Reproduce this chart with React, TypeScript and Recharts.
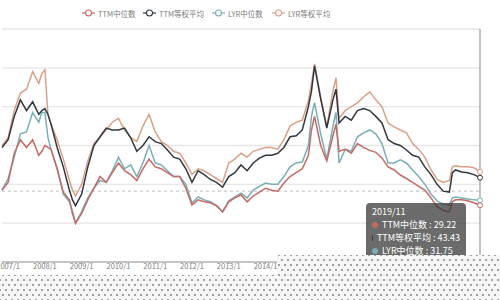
import React from 'react';
import { LineChart, Line, XAxis, YAxis, CartesianGrid, ReferenceLine, ReferenceDot } from 'recharts';

const months = [
  '2006/11', '2007/1', '2007/3', '2007/5', '2007/7', '2007/9', '2007/11', '2007/12', '2008/1', '2008/2',
  '2008/3', '2008/5', '2008/7', '2008/9', '2008/10', '2008/11', '2009/1', '2009/3', '2009/5', '2009/7',
  '2009/9', '2009/11', '2010/1', '2010/3', '2010/5', '2010/7', '2010/9', '2010/11', '2011/1', '2011/3',
  '2011/5', '2011/7', '2011/9', '2011/11', '2012/1', '2012/3', '2012/5', '2012/7', '2012/9', '2012/11',
  '2013/1', '2013/3', '2013/5', '2013/7', '2013/9', '2013/11', '2014/1', '2014/3', '2014/5', '2014/7',
  '2014/9', '2014/11', '2015/1', '2015/3', '2015/4', '2015/5', '2015/7', '2015/9', '2015/11', '2015/12',
  '2016/1', '2016/3', '2016/5', '2016/7', '2016/9', '2016/11', '2017/1', '2017/3', '2017/5', '2017/7',
  '2017/9', '2017/11', '2018/1', '2018/3', '2018/5', '2018/7', '2018/9', '2018/11', '2019/1', '2019/2',
  '2019/3', '2019/5', '2019/7', '2019/9', '2019/11',
];

// TTM中位数
const ttmMedian = [
  37, 41, 56, 63, 59, 63, 55, 57, 60, 59,
  58, 48, 36, 32, 25, 20, 25, 32, 38, 44,
  41, 46, 51, 47, 45, 42, 48, 53, 49, 48,
  46, 44, 44, 38, 29.4, 32, 31, 30.5, 29, 25.8,
  31, 33, 34.5, 31, 34, 36, 38, 37, 36.5, 40.7,
  44, 46, 48, 55, 68, 75, 60, 52, 65, 71,
  57, 58, 56, 61, 59, 57.5, 56.5, 53.6, 49, 47.4,
  44.8, 43, 41, 39, 37, 33, 28.5, 26.5, 25.8, 31,
  32, 32, 31.5, 30.5, 29.22,
];

// TTM等权平均
const ttmEqualAvg = [
  59, 63, 75, 83.5, 78, 82.5, 76, 78, 79, 76,
  71, 59, 49, 37, 32, 29, 35, 49, 60, 64.5,
  69, 68, 68, 69, 64, 57, 60, 64.5, 62, 61,
  57.7, 54, 53, 48, 41, 47, 45, 42.5, 41, 38.5,
  44, 46, 50, 47, 51, 53.5, 55, 55, 56, 59,
  64.5, 65, 68, 80, 88, 101, 84, 69, 83.5, 89,
  71.6, 75, 73, 78, 79, 78, 75, 71.6, 63, 61,
  60, 57.7, 55, 54, 49, 45, 40, 36.5, 36, 46,
  47.4, 46.4, 46, 45, 43.43,
];

// LYR中位数
const lyrMedian = [
  37, 43, 54, 66, 67, 77, 72, 77, 77, 64,
  58, 48, 35, 31, 26, 20, 26, 33, 38, 42,
  41, 47, 54, 48, 50, 44, 51, 60, 51, 50,
  47, 44, 44, 40, 30.4, 33.5, 32, 31, 29, 25.8,
  31.5, 33.5, 35.5, 33, 37, 39, 40.7, 40, 40, 44,
  49, 51, 51.5, 60, 75, 82, 66, 53, 70, 77,
  51, 58, 57, 64.5, 66.5, 68, 66, 61, 51, 51,
  52.6, 51, 47.4, 44, 40, 35, 31.5, 29.8, 29.4, 33,
  33.5, 33, 32.5, 32, 31.75,
];

// LYR等权平均
const lyrEqualAvg = [
  60, 64, 78, 87, 89, 98, 92, 97, 99, 76,
  71, 63, 53, 42, 37, 34, 40, 52, 61, 64.5,
  68, 72, 74, 68, 64, 62, 70, 76, 67, 62,
  60, 57, 56, 51, 45, 48, 47, 45, 43, 41,
  51, 53, 56, 54, 57, 58, 59, 59, 58, 63,
  70, 72, 73, 83, 92, 102, 85, 69.6, 88, 95,
  74, 78, 80, 82, 85, 87.6, 83.5, 80, 71.6, 69.6,
  68, 66.5, 61, 58, 54, 47.5, 42.5, 41, 42, 49,
  49.5, 49, 49, 48.5, 46.4,
];

const seriesNames = ['TTM中位数', 'TTM等权平均', 'LYR中位数', 'LYR等权平均'];
const yearTicks = [
  '2007/1', '2008/1', '2009/1', '2010/1', '2011/1', '2012/1', '2013/1',
  '2014/1', '2015/1', '2016/1', '2017/1', '2018/1', '2019/1',
];
const yTicks = [0, 20, 40, 60, 80, 100, 120];
const averageLine = 36.5;

const colors = ['#c46a66', '#30373e', '#7aaeb6', '#d9a088'];
const keys = ['ttmMed', 'ttmAvg', 'lyrMed', 'lyrAvg'];
const legendLeft = [82, 143, 212, 272];

const monthIndex = (s: string) => {
  const [y, mo] = s.split('/').map(Number);
  return (y - 2006) * 12 + (mo - 11);
};

const checker: React.CSSProperties = {
  position: 'absolute',
  backgroundColor: '#f6f6f6',
  backgroundImage:
    'radial-gradient(circle, #a0a0a0 0.7px, transparent 1.2px), radial-gradient(circle, #a0a0a0 0.7px, transparent 1.2px)',
  backgroundSize: '6px 10px',
  backgroundPosition: '0 0, 3px 5px',
  backgroundAttachment: 'fixed',
};

export default function App() {
  const series = [ttmMedian, ttmEqualAvg, lyrMedian, lyrEqualAvg];
  const data = months.map((d, i) => ({
    m: monthIndex(d),
    ttmMed: ttmMedian[i],
    ttmAvg: ttmEqualAvg[i],
    lyrMed: lyrMedian[i],
    lyrAvg: lyrEqualAvg[i],
  }));
  const last = months.length - 1;
  const lastM = monthIndex(months[last]);
  const tickLabel: Record<number, string> = {};
  yearTicks.forEach((t) => (tickLabel[monthIndex(t)] = t));
  const font = '"Noto Sans CJK SC", "Noto Sans", sans-serif';

  return (
    <div
      style={{
        position: 'fixed',
        left: 0,
        top: 0,
        width: 500,
        height: 300,
        background: '#fff',
        overflow: 'hidden',
        fontFamily: font,
      }}
    >
      <LineChart width={500} height={300} data={data} margin={{ top: 29, right: 20, bottom: 8, left: 2 }}>
        <CartesianGrid vertical={false} stroke="#e6e6e6" strokeWidth={1.3} />
        <XAxis
          type="number"
          dataKey="m"
          domain={[0, lastM]}
          ticks={yearTicks.map(monthIndex)}
          tickFormatter={(v: number) => tickLabel[v] ?? ''}
          interval={0}
          height={30}
          axisLine={{ stroke: '#c4c4c4', strokeWidth: 2 }}
          tickLine={{ stroke: '#999' }}
          tickSize={2}
          tickMargin={0}
          tick={{ fontSize: 7.5, fill: '#808080', fontFamily: font }}
        />
        <YAxis hide domain={[0, 120]} ticks={yTicks} />
        <ReferenceLine y={averageLine} stroke="#bcbcbc" strokeDasharray="3 3" />
        <ReferenceLine x={lastM} stroke="#a8a8a8" strokeWidth={1.4} />
        {[3, 2, 0, 1].map((k) => (
          <Line
            key={keys[k]}
            type="linear"
            dataKey={keys[k]}
            stroke={colors[k]}
            strokeWidth={1.5}
            dot={false}
            isAnimationActive={false}
          />
        ))}
        {[3, 2, 0, 1].map((k) => (
          <ReferenceDot
            key={'d' + k}
            x={lastM}
            y={series[k][last]}
            r={2.5}
            fill="#fff"
            stroke={colors[k]}
            strokeWidth={1}
          />
        ))}
      </LineChart>

      {seriesNames.map((name, k) => (
        <div
          key={name}
          style={{
            position: 'absolute',
            left: legendLeft[k],
            top: 8,
            height: 10,
            display: 'flex',
            alignItems: 'center',
            fontSize: 7.5,
            color: '#7a7a7a',
            whiteSpace: 'nowrap',
          }}
        >
          <svg width={13} height={8} style={{ marginRight: 3 }}>
            <line x1={0} y1={4} x2={13} y2={4} stroke={colors[k]} strokeWidth={1.2} />
            <circle cx={6.5} cy={4} r={3} fill="#fff" stroke={colors[k]} strokeWidth={1.1} />
          </svg>
          <span>{name}</span>
        </div>
      ))}

      <div
        style={{
          position: 'absolute',
          left: 366,
          top: 203,
          width: 100,
          height: 70,
          background: 'rgba(50,50,50,0.72)',
          borderRadius: 4,
          color: '#fff',
          fontSize: 9,
          lineHeight: '13px',
          padding: '2px 6px',
          boxSizing: 'border-box',
          whiteSpace: 'nowrap',
        }}
      >
        <div>{months[last]}</div>
        {[0, 1, 2].map((k) => (
          <div key={k} style={{ display: 'flex', alignItems: 'center' }}>
            <span
              style={{
                display: 'inline-block',
                width: 6,
                height: 6,
                borderRadius: 3,
                background: colors[k],
                marginRight: 4,
              }}
            />
            <span>
              {seriesNames[k]} : {series[k][last]}
            </span>
          </div>
        ))}
      </div>

      <div style={{ ...checker, left: 0, top: 275, width: 277, height: 25 }} />
      <div style={{ ...checker, left: 277, top: 255, width: 223, height: 45 }} />
    </div>
  );
}
